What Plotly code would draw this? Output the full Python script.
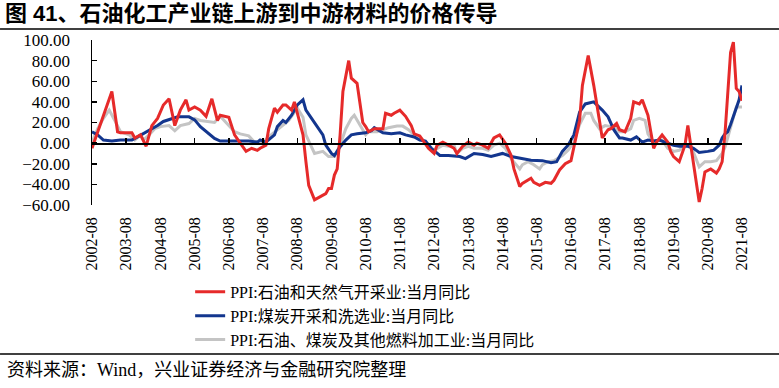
import plotly.graph_objects as go

# ---- data (month offsets from 2002-08, values in %) ----
red_name = "PPI:石油和天然气开采业:当月同比"
red_m = [0,2,4,7,9,10,14,15,17,19,21,23,25,27,29,31,33,34,36,38,40,42,44,45,48,50,52,54,56,58,59,61,62,64,65,67,68,70,71,72,74,75,76,78,80,82,83,84,85,86,87,88,90,91,93,94,95,96,97,99,102,103,105,106,108,110,112,113,115,118,120,121,123,125,127,128,130,132,134,135,137,139,141,143,145,147,148,150,151,154,155,157,159,161,162,164,166,168,169,171,172,174,176,178,179,181,182,184,185,187,189,190,192,193,195,196,197,198,200,202,203,204,206,208,209,210,212,213,214,215,217,219,220,221,222,223,224,225,226,227,228]
red_v = [-5,11,27,50,11,10,10,5,8,-3,17,24,37,43,17,32,42,32,35,32,26,43,22,27,25,8,0,-8,-5,-7,-5,-2,14,34,30,37,37,32,40,30,8,-18,-41,-55,-52,-49,-44,-44,-31,-25,8,50,80,63,58,40,20,16,11,14,14,29,27,29,32,26,17,9,7,-5,-10,-2,1,-2,-5,-10,-3,1,-2,0,-2,-5,5,8,0,-12,-25,-42,-39,-34,-38,-41,-38,-39,-36,-26,-20,-17,-3,22,56,85,56,24,5,13,14,19,13,11,24,40,38,42,27,11,-5,1,8,1,-8,-13,-18,-2,17,-2,-38,-57,-44,-28,-25,-29,-25,-18,10,50,88,98,53,50,41]

blue_name = "PPI:煤炭开采和洗选业:当月同比"
blue_m = [0,2,4,7,10,14,16,18,21,23,25,28,30,34,36,38,41,43,45,50,55,58,59,61,64,65,67,68,70,72,74,75,77,79,81,82,84,85,87,89,91,93,96,98,99,102,105,108,110,113,115,117,119,122,125,129,131,134,137,140,144,147,151,154,158,161,163,165,167,169,171,173,176,178,179,181,183,185,186,189,191,193,195,197,199,202,204,206,209,211,213,216,218,220,221,222,223,224,225,226,227,228]
blue_v = [11,8,3,2,3,3,6,9,14,17,21,24,25.5,25.5,22.6,16,9,4.5,2,2,2,1,3,1,8,16,22,20,27,37,42,32,24,16,8,-2,-10,-12,-3.5,3,8,9,10,12,15,10,9,10,8,6,3,2,-5,-12,-12,-13,-15,-10,-11,-13,-10,-13,-15,-16.5,-17,-19,-18,-8,-2,8,30,38,40,35,32,25.5,13,5,5,3,6,1,3,2,3,0,-2,-3,-3,-5,-9,-8,-7,-2,5,9,11,18,27,34,42,56]

grey_name = "PPI:石油、煤炭及其他燃料加工业:当月同比"
grey_m = [0,2,4,6,8,10,13,15,17,18,20,22,24,27,29,31,34,36,38,41,43,45,48,50,52,55,57,60,62,65,67,69,72,74,75,77,78,81,83,85,87,89,91,92,94,96,97,100,102,104,107,109,111,113,115,118,120,123,125,127,128,130,132,134,137,139,141,143,145,147,150,151,153,155,157,158,160,162,165,167,169,171,173,175,176,178,180,182,184,185,187,189,190,192,194,195,197,199,200,202,204,206,208,210,212,213,215,217,219,221,222,223,224,225,226,228]
grey_v = [1,14,24,32,22,11,8,3,8,3,8,14,16,17,12,17,19,24,22,21,20,26,17,11,9,7,1,1,6,13,17,22,34,25,8,-5,-10,-8,-13,-13,-2,14,24,27,17,8,11,11,13,15,16.5,16.5,13,8,6,-2,-7,-2,-3,-2,-10,-5,-3,-5,-5,-7,-2,0,-5,-15,-25,-21,-18,-21,-25,-21,-18,-17,-12,-7,1,18,29,29,22,14,17,16,14,11,11,14,22,24,22,9,0,3,3,-5,-8,-7,-2,-2,-15,-23,-18,-18,-17,-10,-4,5,15,25,35,35]

first_month, last_month = 0, 228
title_text = "图 41、石油化工产业链上游到中游材料的价格传导"
source_text = "资料来源：Wind，兴业证券经济与金融研究院整理"

assert len(red_m) == len(red_v), (len(red_m), len(red_v))
assert len(blue_m) == len(blue_v), (len(blue_m), len(blue_v))
assert len(grey_m) == len(grey_v), (len(grey_m), len(grey_v))


def ym(m):
    y = 2002 + (7 + m) // 12
    mo = (7 + m) % 12 + 1
    return f"{y}-{mo:02d}-01"


SERIF = "Liberation Serif, Noto Sans CJK SC"
fig = go.Figure()
for name, ms, vs, color, rank in [
    (grey_name, grey_m, grey_v, "#C4C4C4", 3),
    (blue_name, blue_m, blue_v, "#13368E", 2),
    (red_name, red_m, red_v, "#E62A2A", 1),
]:
    fig.add_trace(go.Scatter(x=[ym(m) for m in ms], y=vs, mode="lines",
                             line=dict(color=color, width=3), name=name,
                             legendrank=rank, hoverinfo="skip"))

# helper trace for the axis drawn at y = 0
fig.add_trace(go.Scatter(x=[ym(first_month), ym(last_month)], y=[None, None],
                         xaxis="x2", showlegend=False, hoverinfo="skip"))

rng = [ym(first_month), ym(last_month)]
fig.update_layout(
    width=779, height=388,
    margin=dict(l=92, r=37, t=40, b=183),
    paper_bgcolor="white", plot_bgcolor="white",
    font=dict(family=SERIF, color="black"),
    showlegend=True, hovermode=False,
    legend=dict(x=0.151, y=-0.424, xanchor="left", yanchor="top",
                font=dict(family=SERIF, size=16, color="black"),
                bgcolor="rgba(0,0,0,0)", tracegroupgap=0),
    xaxis=dict(type="date", range=rng, tick0=ym(first_month), dtick="M12",
               tickformat="%Y-%m", tickangle=-90, showline=False, ticks="",
               showgrid=False, zeroline=False,
               tickfont=dict(family=SERIF, size=16, color="black"),
               ticklabelstandoff=8),
    xaxis2=dict(type="date", overlaying="x", anchor="free", position=0.375,
                range=rng, tick0=ym(first_month), dtick="M12",
                showline=True, linecolor="black", linewidth=1.5,
                ticks="inside", ticklen=5, tickwidth=1.5, tickcolor="black",
                showticklabels=False, showgrid=False, zeroline=False),
    yaxis=dict(range=[-60, 100], tick0=0, dtick=20, tickformat=".2f",
               showline=True, linecolor="black", linewidth=1.5,
               ticks="inside", ticklen=5, tickwidth=1.5, tickcolor="black",
               showgrid=False, zeroline=False,
               tickfont=dict(family=SERIF, size=17, color="black"),
               ticklabelstandoff=17),
    annotations=[
        dict(text="<b>" + title_text + "</b>", xref="paper", yref="paper",
             x=-0.137, y=1.158, xanchor="left", yanchor="middle", showarrow=False,
             font=dict(family="Liberation Sans, Noto Sans CJK SC", size=22, color="black")),
        dict(text=source_text, xref="paper", yref="paper",
             x=-0.134, y=-1.0, xanchor="left", yanchor="middle", showarrow=False,
             font=dict(family=SERIF, size=18, color="black")),
    ],
    shapes=[
        dict(type="line", xref="paper", yref="paper", x0=-0.1415, x1=1.057,
             y0=1.0667, y1=1.0667, line=dict(color="black", width=1.5)),
        dict(type="line", xref="paper", yref="paper", x0=-0.1415, x1=1.057,
             y0=-0.903, y1=-0.903, line=dict(color="black", width=1.5)),
    ],
)

fig.write_html("out.html", config={"displayModeBar": False, "staticPlot": True},
               post_script="document.body.style.margin='0';document.body.style.padding='0';")
